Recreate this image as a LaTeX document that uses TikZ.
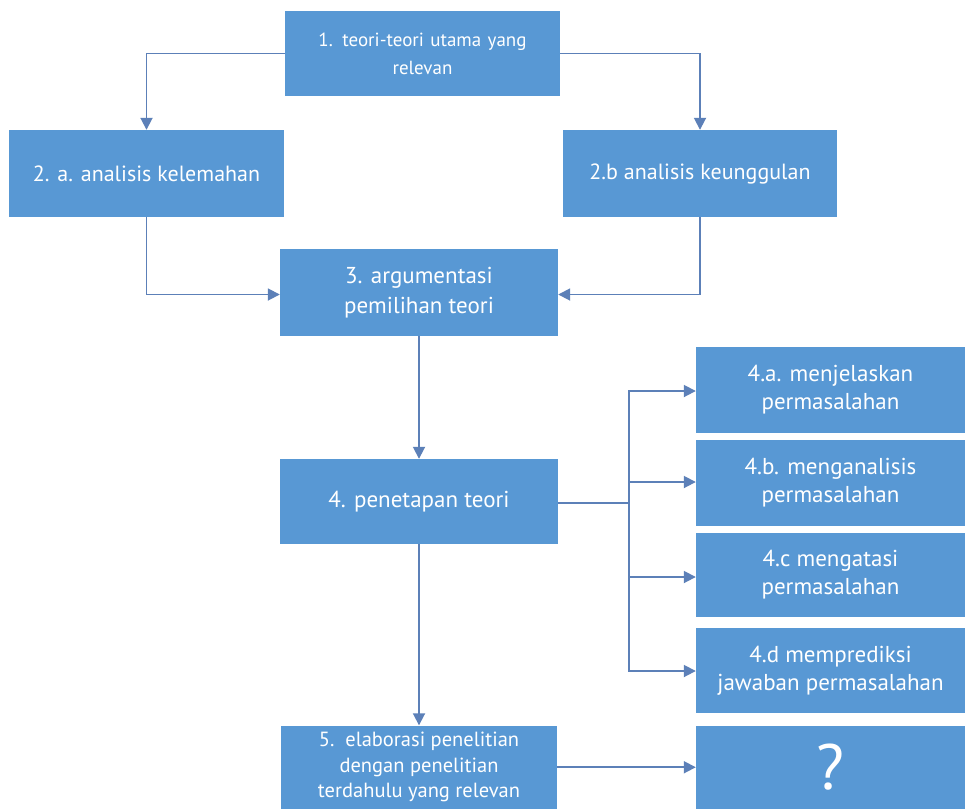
\documentclass[tikz,border=0pt]{standalone}
\usepackage{fontspec}
\setmainfont{PT Sans}
\usetikzlibrary{arrows.meta}
\definecolor{boxblue}{RGB}{88,152,212}
\definecolor{linecol}{RGB}{92,128,184}
\begin{document}
\begin{tikzpicture}[x=1pt,y=1pt,
  box/.style={rectangle, fill=boxblue, draw=none, text=white, align=center, inner sep=2pt},
  conn/.style={draw=linecol, line width=1.8pt, -{Triangle[length=12pt,width=12pt]}},
  plain/.style={draw=linecol, line width=1.8pt}]
\useasboundingbox[fill=white] (0,0) rectangle (965,-809);
\node[box, minimum width=275pt, minimum height=85pt, font=\fontsize{19}{28}\selectfont, text width=260pt] (n1) at (422.5,-53.5) {1. teori-teori utama yang\\relevan};
\node[box, minimum width=275pt, minimum height=87pt, font=\fontsize{22}{28}\selectfont] (n2a) at (146.5,-173.5) {2. a. analisis kelemahan};
\node[box, minimum width=274pt, minimum height=87pt, font=\fontsize{22}{28}\selectfont] (n2b) at (700,-173.5) {2.b analisis keunggulan};
\node[box, minimum width=278pt, minimum height=87pt, font=\fontsize{23}{30}\selectfont] (n3) at (419,-292.5) {3. argumentasi\\pemilihan teori};
\node[box, minimum width=278pt, minimum height=85pt, font=\fontsize{23}{30}\selectfont] (n4) at (419,-501.5) {4. penetapan teori};
\node[box, minimum width=269pt, minimum height=86pt, font=\fontsize{23}{28}\selectfont] (n4a) at (830.5,-390) {4.a. menjelaskan\\permasalahan};
\node[box, minimum width=269pt, minimum height=86pt, font=\fontsize{23}{28}\selectfont] (n4b) at (830.5,-483) {4.b. menganalisis\\permasalahan};
\node[box, minimum width=269pt, minimum height=84pt, font=\fontsize{23}{28}\selectfont] (n4c) at (830.5,-575) {4.c mengatasi\\permasalahan};
\node[box, minimum width=269pt, minimum height=85pt, font=\fontsize{23}{28}\selectfont] (n4d) at (830.5,-670.5) {4.d memprediksi\\jawaban permasalahan};
\node[box, minimum width=276pt, minimum height=83.5pt, font=\fontsize{20.5}{25.5}\selectfont] (n5) at (419,-767.25) {5.\ \ elaborasi penelitian\\dengan penelitian\\terdahulu yang relevan};
\node[box, minimum width=269pt, minimum height=83.5pt, font=\fontsize{64}{64}\selectfont] (nq) at (830.5,-767.25) {?};
\coordinate (br) at (629,-503);
\draw[conn] (n1.west) -| (n2a.north);
\draw[conn] (n1.east) -| (n2b.north);
\draw[conn] (n2a.south) |- ([yshift=-2pt]n3.west);
\draw[conn] (n2b.south) |- ([yshift=-2pt]n3.east);
\draw[conn] (n3.south) -- (n4.north);
\draw[plain] ([yshift=-1.5pt]n4.east) -- (br);
\draw[conn] (br) |- ([yshift=-1pt]n4a.west);
\draw[conn] (br) |- ([yshift=1pt]n4b.west);
\draw[conn] (br) |- ([yshift=-2pt]n4c.west);
\draw[conn] (br) |- ([yshift=-0.5pt]n4d.west);
\draw[conn] (n4.south) -- (n5.north);
\draw[conn] (n5.east) -- (nq.west);
\end{tikzpicture}
\end{document}
